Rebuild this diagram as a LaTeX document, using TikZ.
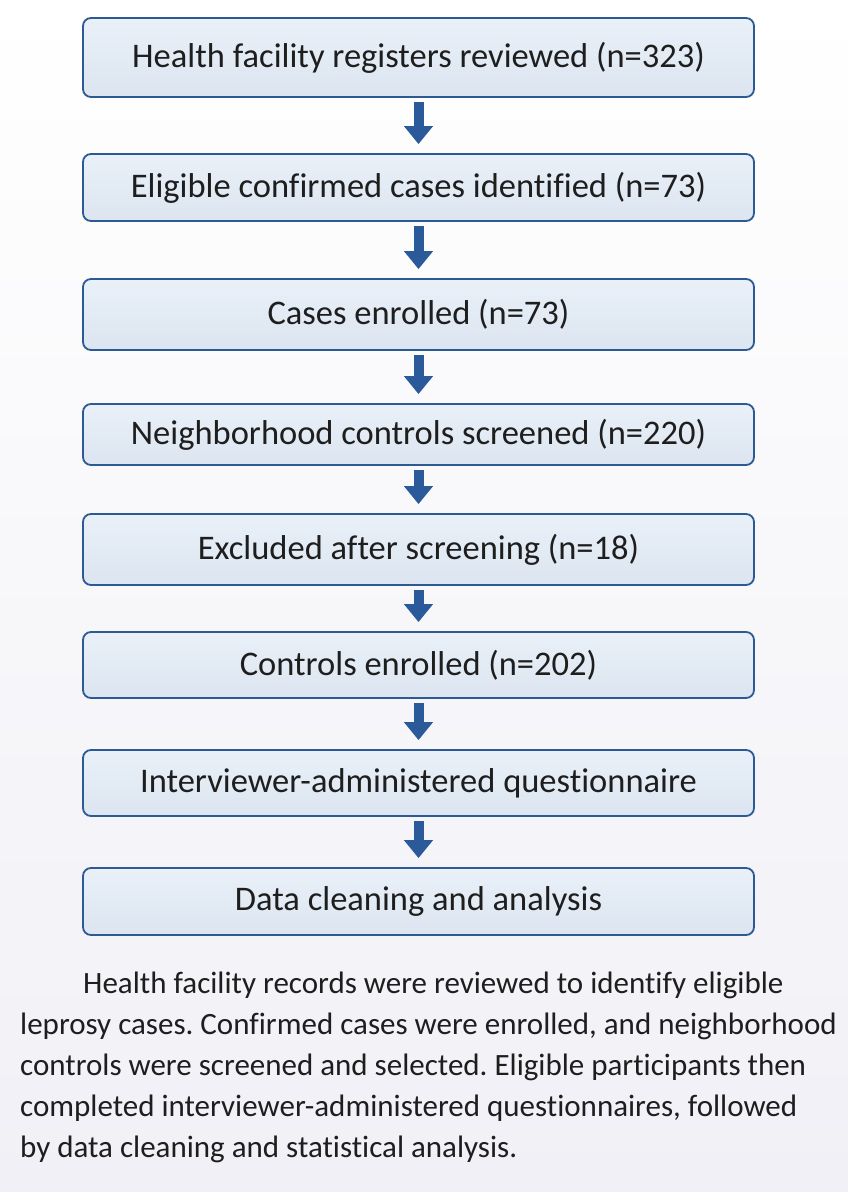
\documentclass[tikz,border=0pt]{standalone}
\usepackage{fontspec}
\setmainfont[Ligatures=NoCommon]{Carlito}
\usetikzlibrary{arrows.meta}
\definecolor{bordc}{HTML}{2D5A94}
\definecolor{arrc}{HTML}{2B5A9B}
\definecolor{filltop}{HTML}{E9F0F8}
\definecolor{fillbot}{HTML}{DCE5F0}
\definecolor{bgbot}{HTML}{F0F0F6}
\definecolor{txt}{HTML}{1E1E1E}
\frenchspacing
\begin{document}
\begin{tikzpicture}[x=1pt,y=-1pt,
  stepbox/.style={draw=bordc, line width=1.8pt, rounded corners=8pt,
    top color=filltop, bottom color=fillbot, minimum width=671pt,
    inner sep=0pt, text=txt, font=\fontsize{34.5}{40}\selectfont},
  flowarrow/.style={draw=arrc, line width=10pt, -{Triangle[width=28pt,length=18pt]}},
  captionline/.style={anchor=base west, inner sep=0pt, text=txt, font=\fontsize{31}{37}\selectfont}]
\shade[top color=white, bottom color=bgbot] (0,0) rectangle (848,1192);
\useasboundingbox (0,0) rectangle (848,1192);

\node[stepbox, minimum height=79pt] (b1) at (418.5,57.5) {Health facility registers reviewed (n=323)};
\node[stepbox, minimum height=67pt] (b2) at (418.5,187.5) {Eligible confirmed cases identified (n=73)};
\node[stepbox, minimum height=71pt] (b3) at (418.5,314.5) {Cases enrolled (n=73)};
\node[stepbox, minimum height=61pt] (b4) at (418.5,434.5) {Neighborhood controls screened (n=220)};
\node[stepbox, minimum height=71pt] (b5) at (418.5,549.5) {Excluded after screening (n=18)};
\node[stepbox, minimum height=66pt] (b6) at (418.5,665) {Controls enrolled (n=202)};
\node[stepbox, minimum height=66pt] (b7) at (418.5,783) {Interviewer-administered questionnaire};
\node[stepbox, minimum height=67pt] (b8) at (418.5,901.5) {Data cleaning and analysis};

\draw[flowarrow] ([yshift=-4pt]b1.south) -- ([yshift=9pt]b2.north);
\draw[flowarrow] ([yshift=-4pt]b2.south) -- ([yshift=9pt]b3.north);
\draw[flowarrow] ([yshift=-4pt]b3.south) -- ([yshift=9pt]b4.north);
\draw[flowarrow] ([yshift=-4pt]b4.south) -- ([yshift=9pt]b5.north);
\draw[flowarrow] ([yshift=-4pt]b5.south) -- ([yshift=9pt]b6.north);
\draw[flowarrow] ([yshift=-4pt]b6.south) -- ([yshift=9pt]b7.north);
\draw[flowarrow] ([yshift=-4pt]b7.south) -- ([yshift=9pt]b8.north);

\node[captionline] (c1) at (83,993) {Health facility records were reviewed to identify eligible};
\node[captionline] (c2) at (20,1034) {leprosy cases. Confirmed cases were enrolled, and neighborhood};
\node[captionline] (c3) at (20,1075) {controls were screened and selected. Eligible participants then};
\node[captionline] (c4) at (20,1116) {completed interviewer-administered questionnaires, followed};
\node[captionline] (c5) at (20,1157) {by data cleaning and statistical analysis.};
\end{tikzpicture}
\end{document}
